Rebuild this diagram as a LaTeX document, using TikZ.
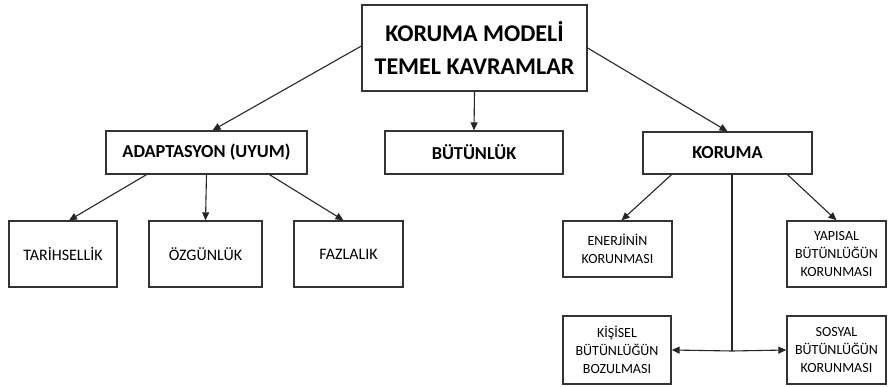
\documentclass[tikz,border=0pt]{standalone}
\usepackage{fontspec}
\setmainfont{Carlito}
\usepackage{tikz}
\usetikzlibrary{arrows.meta}
\tikzset{
  box/.style={draw=black!80,line width=1.3pt,rectangle,align=center,inner sep=0pt},
  topbox/.style={box,font=\bfseries\fontsize{24}{33}\selectfont},
  midbox/.style={box,font=\bfseries\fontsize{18.3}{20}\selectfont},
  leafbox/.style={box,font=\fontsize{16}{18}\selectfont},
  smallbox/.style={box,font=\fontsize{14}{18}\selectfont},
}
\begin{document}
\begin{tikzpicture}[x=1pt,y=-1pt,->,>={Triangle[length=8pt,width=7pt]},line width=1.1pt,draw=black!85]
			\useasboundingbox(0,0)rectangle(888,387);
			\node[topbox,minimum width=225pt,minimum height=86pt](top)at(474.5,48){KORUMA MODELİ\\TEMEL KAVRAMLAR};
			\node[midbox,minimum width=201pt,minimum height=43pt](adapt)at(206.5,152.5){ADAPTASYON (UYUM)};
			\node[midbox,minimum width=178pt,minimum height=43pt](butun)at(474,152.5){BÜTÜNLÜK};
			\node[midbox,minimum width=169pt,minimum height=42pt](koruma)at(727.5,153){KORUMA};
			\node[leafbox,minimum width=108pt,minimum height=66pt](tarih)at(63,254){TARİHSELLİK};
			\node[leafbox,minimum width=113pt,minimum height=66pt](ozgun)at(205.5,254){ÖZGÜNLÜK};
			\node[leafbox,minimum width=109pt,minimum height=66pt](fazla)at(348.5,254){FAZLALIK};
			\node[smallbox,minimum width=109pt,minimum height=56pt](enerji)at(617.5,249){ENERJİNİN\\KORUNMASI};
			\node[smallbox,minimum width=99pt,minimum height=66pt](yapisal)at(836.5,254){YAPISAL\\BÜTÜNLÜĞÜN\\KORUNMASI};
			\node[smallbox,minimum width=108pt,minimum height=68pt](kisisel)at(617,350){KİŞİSEL\\BÜTÜNLÜĞÜN\\BOZULMASI};
			\node[smallbox,minimum width=99pt,minimum height=68pt](sosyal)at(836.5,350){SOSYAL\\BÜTÜNLÜĞÜN\\KORUNMASI};
			\coordinate(split)at(732,351);
			\draw([yshift=2pt]top.west)--([xshift=6pt]adapt.north);
			\draw(top.south)--(butun.north);
			\draw(top.east)--(koruma.north);
			\draw([xshift=-60pt]adapt.south)--([xshift=6pt]tarih.north);
			\draw(adapt.south)--(ozgun.north);
			\draw([xshift=63pt]adapt.south)--([xshift=-5pt]fazla.north);
			\draw([xshift=-56pt]koruma.south)--([xshift=4pt]enerji.north);
			\draw([xshift=60pt]koruma.south)--(yapisal.north);
			\draw[-]([xshift=4.5pt]koruma.south)--(split);
			\draw(split)--(kisisel.east);
			\draw(split)--(sosyal.west);
		\end{tikzpicture}
\end{document}
